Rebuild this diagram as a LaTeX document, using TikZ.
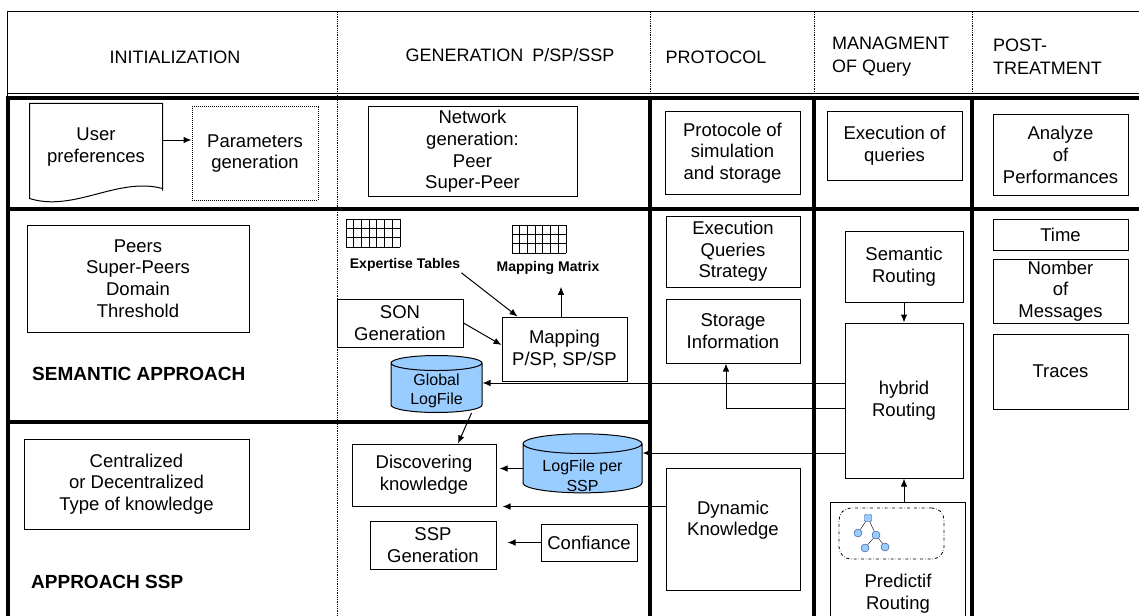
\documentclass[tikz,border=0pt]{standalone}
\usepackage{fontspec}
\setmainfont{Liberation Sans}
\usetikzlibrary{arrows.meta}
\usetikzlibrary{positioning}
\usetikzlibrary{shapes.geometric}
\definecolor{logblue}{RGB}{153,204,255}
\definecolor{leafline}{RGB}{40,70,140}
\tikzset{box/.style = {draw, line width = 1pt, align = center, inner sep = 0,
                       font = \fontsize{18.5}{21.7}\selectfont}}
\tikzset{hd/.style = {align = left, inner sep = 0, font = \fontsize{18}{23}\selectfont}}
\tikzset{approach/.style = {inner sep = 0, font = \bfseries\fontsize{19}{22}\selectfont}}
\tikzset{tabname/.style = {inner sep = 1, font = \bfseries\fontsize{14}{16}\selectfont}}
\tikzset{db/.style = {cylinder, shape border rotate = 90, aspect = 0.165, draw, fill = logblue,
                      line width = 1pt, inner sep = 0}}
\tikzset{dbtext/.style = {align = center, inner sep = 0, font = \fontsize{16}{19.5}\selectfont}}
\tikzset{leaf/.style = {circle, draw = leafline, fill = logblue, inner sep = 0, minimum size = 8}}
\tikzset{bar/.style = {line width = 4.5pt}}
\tikzset{sepline/.style = {densely dotted, line width = 0.8pt}}
\tikzset{cell/.style = {line width = 0.9pt}}
\tikzset{arr/.style = {-{Latex[length = 8pt, width = 6.5pt]}, line width = 1pt}}

\begin{document}
\begin{tikzpicture}[x = 1pt, y = -1pt]
    \useasboundingbox (0, 0) rectangle (1139, 615);
    \clip (0, 0) rectangle (1139, 615);

    % frame
    \draw [line width = 1pt] (1145, 12) -- (7, 12) -- (7, 98);
    \draw [line width = 1pt] (7, 94) -- (1145, 94);
    \foreach \x in {650, 814, 972}
      \draw [sepline] (\x, 12) -- (\x, 94);
    \draw [sepline] (337, 12) -- (337, 620);
    \draw [bar] (6, 98) -- (1145, 98);
    \draw [bar] (6, 209) -- (1145, 209);
    \draw [bar] (6, 422) -- (650, 422);
    \draw [bar] (8, 96) -- (8, 620);
    \foreach \x in {650, 814, 972}
      \draw [bar] (\x, 96) -- (\x, 620);

    \node [hd] (init) at (175, 57) {INITIALIZATION};
    \node [hd] (gen) at (510, 55) {GENERATION\enspace P/SP/SSP};
    \node [hd] (proto) at (716, 57) {PROTOCOL};
    \node [hd, anchor = west] (manag) at (832, 57) {MANAGMENT\\OF Query};
    \node [hd, anchor = west] (post) at (993, 57) {POST-\\TREATMENT};

    % first row
    \node [box, draw = none, minimum width = 132, minimum height = 86] (user) at (96, 147) {User\\preferences};
    \draw [line width = 1pt] (user.south east) -- (user.north east) -- (user.north west)
      -- ([yshift = -8pt]user.south west) .. controls +(45, 14) and +(-45, -12) .. ([yshift = 2pt]user.south east);
    \node [box, densely dotted, minimum width = 126, minimum height = 93] (params) at (255, 153.5) {Parameters\\generation};
    \draw [arr] ([yshift = 7pt]user.east) -- ([yshift = 7pt]user.east -| params.west);

    \node [box, minimum width = 209, minimum height = 89] (netgen) at (472.5, 151.5) {Network\\generation:\\Peer\\Super-Peer};
    \node [box, minimum width = 135, minimum height = 82] (protsim) at (732.5, 153) {Protocole of\\simulation\\and storage};
    \node [box, minimum width = 135, minimum height = 68] (execq) at (894.5, 146) {Execution of\\queries};
    \node [box, minimum width = 135, minimum height = 80] (perf) at (1060.5, 155) {Analyze\\of\\Performances};

    % approaches
    \node [box, minimum width = 222, minimum height = 107] (peers) at (138, 278.5) {Peers\\Super-Peers\\Domain\\Threshold};
    \node [approach, anchor = west] (semapp) at (32, 374) {SEMANTIC APPROACH};
    \node [box, minimum width = 225, minimum height = 90] (central) at (136.5, 484) {Centralized\\or Decentralized\\Type of knowledge};
    \node [approach, anchor = west] (sspapp) at (31, 582) {APPROACH SSP};

    % generation
    \foreach \gx/\gy in {346/219, 512/225} {
      \foreach \i in {0, ..., 7}
        \draw [cell] (\gx + \i * 54 / 7, \gy) -- ++(0, 28);
      \foreach \j in {0, ..., 3}
        \draw [cell] (\gx, \gy + \j * 28 / 3) -- ++(54, 0);
    }
    \node [tabname] (exptab) at (405, 265) {Expertise Tables};
    \node [tabname] (mapmat) at (548, 268) {Mapping Matrix};

    \node [box, minimum width = 126, minimum height = 48] (songen) at (400, 323) {SON\\Generation};
    \node [box, minimum width = 125, minimum height = 64] (mapping) at (564.5, 349) {Mapping\\P/SP, SP/SP};
    \node [db, text width = 91, minimum height = 57] (globlog) at (436.5, 388) {};
    \node [dbtext] (globtxt) at ([yshift = -3pt]globlog.center) {Global\\LogFile};

    \draw [arr] (exptab.south east) -- ([xshift = 16pt]mapping.north west);
    \draw [arr] (songen.east) -- ([yshift = 4pt]mapping.west);
    \draw [arr, shorten >= 11pt] ([xshift = -3.5pt]mapping.north) -- ([xshift = -3.5pt]mapping.north |- mapmat.south);

    \node [box, minimum width = 144, minimum height = 62] (discov) at (424, 475) {Discovering\\knowledge};
    \node [db, text width = 119, minimum height = 59] (sslog) at (582.5, 468.5) {};
    \node [dbtext] (sstxt) at ([yshift = -7.5pt]sslog.center) {LogFile per\\SSP};
    \node [box, minimum width = 126, minimum height = 48] (sspgen) at (433, 545) {SSP\\Generation};
    \node [box, minimum width = 96, minimum height = 37] (confi) at (589, 542.5) {Confiance};

    \draw [arr] ([xshift = 35pt]globlog.south) -- ([xshift = 34pt]discov.north);
    \draw [arr, shorten >= 3pt] (sslog.west) -- (sslog.west -| discov.east);
    \draw [arr, shorten >= 11pt] (confi.west) -- (confi.west -| sspgen.east);

    % protocol
    \node [box, minimum width = 134, minimum height = 71] (strat) at (733, 251.5) {Execution\\Queries\\Strategy};
    \node [box, minimum width = 134, minimum height = 64] (storage) at (733, 331) {Storage\\Information};
    \node [box, minimum width = 134, minimum height = 122] (dynk) at (733, 529) {Dynamic\\Knowledge\\~};

    % query management
    \node [box, minimum width = 118, minimum height = 71] (semrout) at (904, 266.5) {Semantic\\Routing};
    \node [box, minimum width = 118, minimum height = 155] (hybrid) at (904, 400.5) {hybrid\\Routing};
    \node [box, minimum width = 135, minimum height = 140] (predict) at (897.5, 572) {};
    \node [box, draw = none] (predtxt) at (898, 594) {Predictif\\Routing};
    \node [draw, dash dot, line width = 0.8pt, rounded corners = 12, minimum width = 105, minimum height = 51] (predicon) at (891.5, 533.5) {};
    \node [leaf, rectangle, rounded corners = 1, minimum size = 7] (t0) at (868, 518) {};
    \node [leaf] (t1) at (858, 533) {};
    \node [leaf] (t2) at (876, 535) {};
    \node [leaf] (t3) at (865, 548) {};
    \node [leaf] (t4) at (885, 547) {};
    \draw (t0) -- (t1) (t0) -- (t2) (t2) -- (t3) (t2) -- (t4);

    \draw [arr] (semrout) -- (hybrid);
    \draw [arr] (hybrid.south |- predict.north) -- (hybrid.south);
    \draw [arr] ([yshift = 5pt]globlog.east -| hybrid.west) -- ([yshift = 5pt]globlog.east);
    \draw [arr] ([yshift = -7.5pt]hybrid.west) -| ([xshift = -7pt]storage.south);
    \draw [arr] ([yshift = 15.5pt]sslog.east -| hybrid.west) -- ([yshift = 15.5pt]sslog.east);
    \draw [arr, shorten >= 6pt] (dynk.west |- discov.south east) -- (discov.south east);

    % post-treatment
    \node [box, minimum width = 135, minimum height = 31] (time) at (1060.5, 234.5) {Time};
    \node [box, minimum width = 135, minimum height = 64] (nmsg) at (1060.5, 291) {Nomber\\of\\Messages};
    \node [box, minimum width = 135, minimum height = 75] (traces) at (1060.5, 371.5) {Traces};
\end{tikzpicture}
\end{document}
